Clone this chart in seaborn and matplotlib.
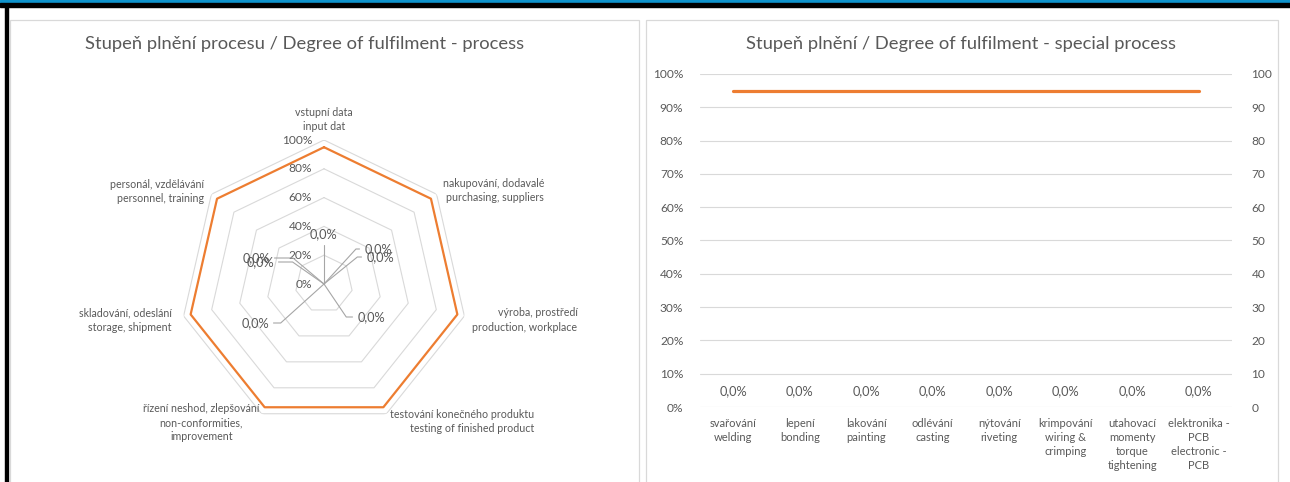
import numpy as np
import pandas as pd
import matplotlib.pyplot as plt
from matplotlib.patches import Rectangle
from matplotlib.ticker import PercentFormatter, MultipleLocator
import seaborn as sns

# Data
process_cats = [
    "vstupní data\ninput dat",
    "nakupování, dodavalé\npurchasing, suppliers",
    "výroba, prostředí\nproduction, workplace",
    "testování konečného produktu\ntesting of finished product",
    "řízení neshod, zlepšování\nnon-conformities,\nimprovement",
    "skladování, odeslání\nstorage, shipment",
    "personál, vzdělávání\npersonnel, training",
]
process_target = [0.95, 0.95, 0.95, 0.95, 0.95, 0.95, 0.95]
process_actual = [0.0, 0.0, 0.0, 0.0, 0.0, 0.0, 0.0]
radar_ticks = [0.0, 0.2, 0.4, 0.6, 0.8, 1.0]

special_cats = [
    "svařování\nwelding",
    "lepení\nbonding",
    "lakování\npainting",
    "odlévání\ncasting",
    "nýtování\nriveting",
    "krimpování\nwiring &\ncrimping",
    "utahovací\nmomenty\ntorque\ntightening",
    "elektronika -\nPCB\nelectronic -\nPCB",
]
special_target = [0.95, 0.95, 0.95, 0.95, 0.95, 0.95, 0.95, 0.95]
special_actual = [0.0, 0.0, 0.0, 0.0, 0.0, 0.0, 0.0, 0.0]

ORANGE = "#ED7D31"
GRID = "#D9D9D9"
TXT = "#595959"

sns.set_theme(style="white")
plt.rcParams["font.family"] = ["Lato", "DejaVu Sans"]
plt.rcParams["text.color"] = TXT

W, H = 1290, 482
fig = plt.figure(figsize=(W / 100, H / 100), dpi=100)


def fx(px):
    return px / W


def fy(py):
    return 1 - py / H


def pct(v):
    return f"{v * 100:.1f}%".replace(".", ",")


# frame decorations of the screenshot
fig.patches.append(Rectangle((0, fy(3)), 1, 3 / H, transform=fig.transFigure, color="#0F93CC", zorder=0))
fig.patches.append(Rectangle((0, fy(6.5)), 1, 3.5 / H, transform=fig.transFigure, color="black", zorder=0))
fig.patches.append(Rectangle((fx(5), 0), 3 / W, fy(6), transform=fig.transFigure, color="black", zorder=0))
for x0, x1 in [(9.5, 638.5), (645.5, 1277.5)]:
    fig.patches.append(Rectangle((fx(x0), -0.1), (x1 - x0) / W, fy(19.5) + 0.1, transform=fig.transFigure,
                                 facecolor="none", edgecolor=GRID, lw=0.9, zorder=0))

fig.text(fx(305), fy(44), "Stupeň plnění procesu / Degree of fulfilment - process",
         ha="center", va="center", fontsize=13.2, color=TXT)
fig.text(fx(961), fy(44), "Stupeň plnění / Degree of fulfilment - special process",
         ha="center", va="center", fontsize=13.2, color=TXT)

# ---------------- radar chart ----------------
cx, cy, rad = 324, 284, 144
axr = fig.add_axes([fx(cx - rad), fy(cy + rad), 2 * rad / W, 2 * rad / H], projection="polar")
axr.set_theta_zero_location("N")
axr.set_theta_direction(-1)
axr.set_ylim(0, 1)
axr.grid(False)
axr.set_xticks([])
axr.set_yticks([])
axr.spines["polar"].set_visible(False)
axr.patch.set_alpha(0)

n = len(process_cats)
theta = np.linspace(0, 2 * np.pi, n, endpoint=False)
theta_closed = np.append(theta, theta[0])

for r in radar_ticks[1:]:
    axr.plot(theta_closed, [r] * (n + 1), color=GRID, lw=0.8, zorder=1)
for r in radar_ticks:
    axr.annotate(f"{r * 100:.0f}%", (0, r), xytext=(-12, 0), textcoords="offset pixels",
                 ha="right", va="center", fontsize=8.6, color=TXT)

radar_df = pd.DataFrame({"theta": theta_closed, "value": process_target + process_target[:1]})
sns.lineplot(data=radar_df, x="theta", y="value", ax=axr, sort=False, estimator=None,
             color=ORANGE, lw=1.6, zorder=3)
axr.set_xlabel("")
axr.set_ylabel("")

# category labels around the outer ring
cat_pos = [
    ((0, 8), "center", "bottom", "center"),
    ((6, 4), "left", "center", "right"),
    ((8, -4), "left", "center", "right"),
    ((4, -8), "left", "center", "right"),
    ((-2, -9), "right", "center", "center"),
    ((-12, -4), "right", "center", "right"),
    ((-7, 3), "right", "center", "right"),
]
for t, lab, (off, ha, va, ma) in zip(theta, process_cats, cat_pos):
    axr.annotate(lab, (t, 1.0), xytext=off, textcoords="offset pixels", ha=ha, va=va,
                 multialignment=ma, fontsize=7.7, color=TXT, linespacing=1.35, annotation_clip=False)

# zero-value data labels with leader lines (overlapping pairs as in the original)
lead = [
    ((-1, 50), (0.5, 0.0), 90),
    ((54, 35), (0.0, 0.5), 47.6),
    ((56, 27), (0.0, 0.5), 39),
    ((47, -33), (0.0, 0.5), -56),
    ((-69, -39), (1.0, 0.5), 42),
    ((-68, 26), (1.0, 0.5), 140),
    ((-64, 22), (1.0, 0.5), 145),
]
for t, v, (off, rp, ang) in zip(theta, process_actual, lead):
    axr.annotate(pct(v), (t, v), xytext=off, textcoords="offset pixels", ha="center", va="center",
                 fontsize=9.2, color=TXT,
                 arrowprops=dict(arrowstyle="-", color="#A6A6A6", lw=0.8, shrinkA=1, shrinkB=0,
                                 relpos=rp, connectionstyle=f"angle,angleA=0,angleB={ang},rad=0"))

# ---------------- line chart ----------------
ax = fig.add_axes([fx(700), fy(407), (1232 - 700) / W, (407 - 74) / H])
ax2 = ax.twinx()
xs = np.arange(len(special_cats))
line_df = pd.DataFrame({"cat": xs, "value": special_target})
sns.lineplot(data=line_df, x="cat", y="value", ax=ax, color=ORANGE, lw=2.3, zorder=3)
ax.set_xlim(-0.5, len(special_cats) - 0.5)
ax.set_ylim(0, 1)
ax.yaxis.set_major_locator(MultipleLocator(0.1))
ax.yaxis.set_major_formatter(PercentFormatter(1.0, decimals=0))
ax.grid(axis="y", color=GRID, lw=0.8)
ax.set_xticks(xs)
ax.set_xticklabels(special_cats, fontsize=8.0, color=TXT, linespacing=1.33)
ax.tick_params(axis="x", length=0, pad=8)
ax.tick_params(axis="y", length=0, pad=12, labelsize=8.6, labelcolor=TXT)
ax.set_xlabel("")
ax.set_ylabel("")

for x, v in zip(xs, special_actual):
    ax.annotate(pct(v), (x, v), xytext=(0, 16), textcoords="offset pixels",
                ha="center", va="center", fontsize=9.2, color=TXT)

ax2.set_ylim(0, 100)
ax2.yaxis.set_major_locator(MultipleLocator(10))
ax2.tick_params(axis="y", length=0, pad=14, labelsize=8.6, labelcolor=TXT)
ax2.grid(False)
for a in (ax, ax2):
    for s in a.spines.values():
        s.set_visible(False)
    a.patch.set_alpha(0)

fig.savefig("out.png", dpi=100)
